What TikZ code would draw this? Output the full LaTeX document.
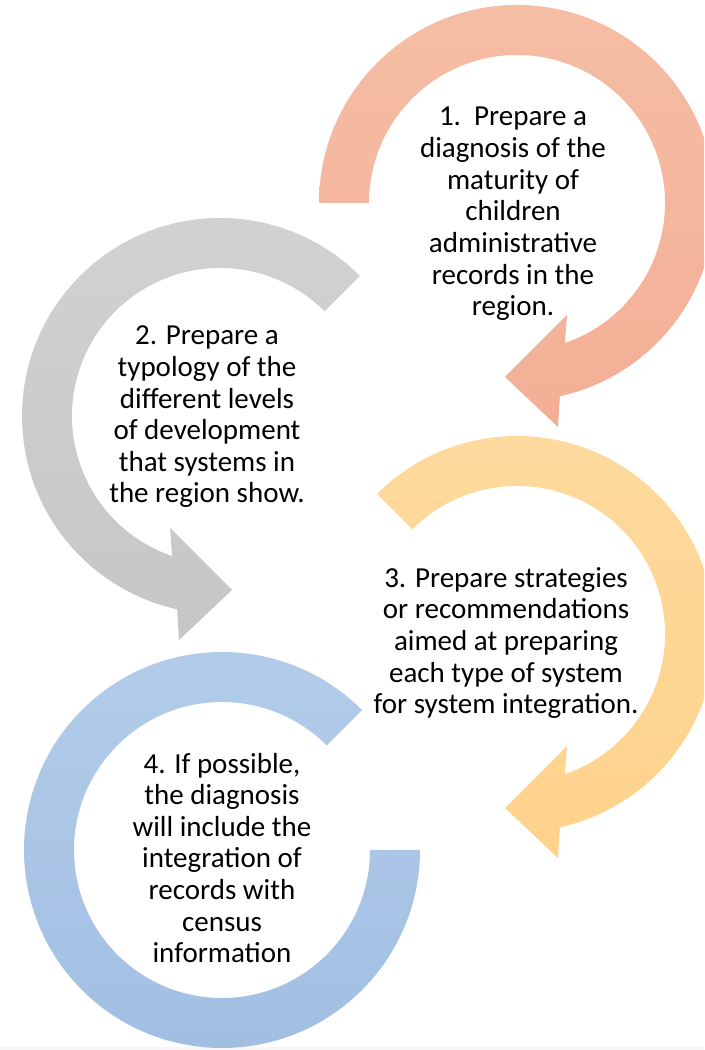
\documentclass[tikz,border=0pt]{standalone}
\usepackage{fontspec}
\setmainfont{Carlito}
\usepackage{tikz}
\usetikzlibrary{calc}

\definecolor{salmonT}{HTML}{F6BDA5}
\definecolor{salmonB}{HTML}{F3AF96}
\definecolor{greyT}{HTML}{D2D2D2}
\definecolor{greyB}{HTML}{C6C6C6}
\definecolor{yellowT}{HTML}{FEDA9F}
\definecolor{yellowB}{HTML}{FED28B}
\definecolor{blueT}{HTML}{B3CCEA}
\definecolor{blueB}{HTML}{A1BEE2}

\tikzset{
    steptext/.style={align=center, inner sep=0pt, text=black,
        font=\fontsize{16.5}{18}\selectfont},
}

\begin{document}
\begin{tikzpicture}[x=0.02cm, y=0.02cm]
    \clip (0,0) rectangle (704,1050);
    \useasboundingbox (0,0) rectangle (704,1050);
    \fill[gray!7] (0,0) rectangle (704,2.5);

    \begin{scope}[shift={(517,847)}]
        \coordinate (O1) at (0,0);
        \shade[top color=salmonT, bottom color=salmonB]
            (180:198) arc[start angle=180, end angle=-77.5, radius=198]
            -- (41,-224) -- (-12,-174) -- (50,-112)
            -- (-71.1:148) arc[start angle=-71.1, end angle=180, radius=148] -- cycle;
        \node[steptext] (s1) at (-4,-11) {1.\ \ Prepare a\\diagnosis of the\\maturity of\\children\\administrative\\records in the\\region.};
    \end{scope}

    \begin{scope}[shift={(220,634)}]
        \coordinate (O2) at (0,0);
        \shade[top color=greyT, bottom color=greyB]
            (45:198) arc[start angle=45, end angle=257.5, radius=198]
            -- (-41,-224) -- (12,-174) -- (-50,-112)
            -- (251.1:148) arc[start angle=251.1, end angle=45, radius=148] -- cycle;
        \node[steptext] (s2) at (-13,-1) {2. Prepare a\\typology of the\\different levels\\of development\\that systems in\\the region show.};
    \end{scope}

    \begin{scope}[shift={(517,416)}]
        \coordinate (O3) at (0,0);
        \shade[top color=yellowT, bottom color=yellowB]
            (135:198) arc[start angle=135, end angle=-77.5, radius=198]
            -- (41,-224) -- (-12,-174) -- (50,-112)
            -- (-71.1:148) arc[start angle=-71.1, end angle=135, radius=148] -- cycle;
        \node[steptext] (s3) at (-11,-9) {3. Prepare strategies\\or recommendations\\aimed at preparing\\each type of system\\for system integration.};
    \end{scope}

    \begin{scope}[shift={(222,200)}]
        \coordinate (O4) at (0,0);
        \shade[top color=blueT, bottom color=blueB]
            (45:198) arc[start angle=45, end angle=360, radius=198]
            -- (0:148) arc[start angle=360, end angle=45, radius=148] -- cycle;
        \node[steptext] (s4) at (0,-8) {4. If possible,\\the diagnosis\\will include the\\integration of\\records with\\census\\information};
    \end{scope}
\end{tikzpicture}
\end{document}
